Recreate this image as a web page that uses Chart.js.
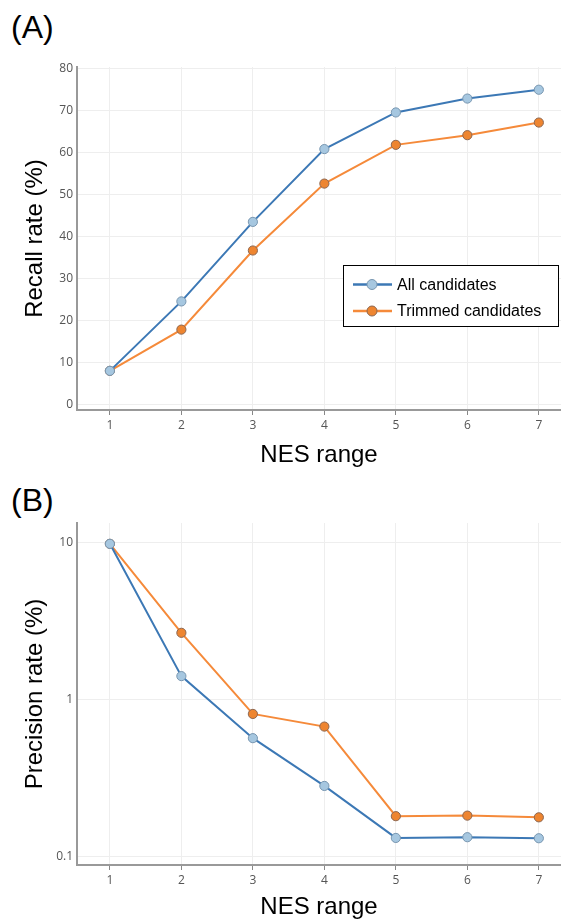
<!DOCTYPE html>
<html>
<head>
<meta charset="utf-8">
<script src="https://cdn.jsdelivr.net/npm/chart.js@4.4.1/dist/chart.umd.min.js"></script>
<style>
  html, body { margin: 0; padding: 0; background: #fff; }
  body { width: 561px; height: 922px; position: relative; overflow: hidden; font-family: "Liberation Sans", Arial, sans-serif; }
  .panel-label { position: absolute; left: 11px; font-size: 32px; color: #000; line-height: 1; }
  #wrapA { position: absolute; left: 0; top: 0; width: 561px; height: 470px; }
  #wrapB { position: absolute; left: 0; top: 470px; width: 561px; height: 452px; }
</style>
</head>
<body>
<div class="panel-label" style="top:11px">(A)</div>
<div class="panel-label" style="top:484px">(B)</div>
<div id="wrapA"><canvas id="chartA"></canvas></div>
<div id="wrapB"><canvas id="chartB"></canvas></div>

<script>
// ── data ──
const nesRange        = [1, 2, 3, 4, 5, 6, 7];
const recallAll       = [8.1, 24.6, 43.5, 60.8, 69.5, 72.8, 74.9];
const recallTrimmed   = [8.1, 17.9, 36.7, 52.6, 61.8, 64.1, 67.1];
const precisionAll    = [9.8, 1.41, 0.568, 0.282, 0.1316, 0.133, 0.131];
const precisionTrimmed = [9.8, 2.66, 0.81, 0.673, 0.181, 0.1825, 0.178];
const recallTicks     = [0, 10, 20, 30, 40, 50, 60, 70, 80];
const precisionTicks  = [0.1, 1, 10];
const seriesNames     = ['All candidates', 'Trimmed candidates'];

const BLUE = '#3c78b5', BLUE_FILL = '#a6c7e0', BLUE_EDGE = '#7896b0';
const ORANGE = '#f58a3a', ORANGE_FILL = '#ee8530', ORANGE_EDGE = '#8c6650';

const toPoints = ys => nesRange.map((x, i) => ({ x, y: ys[i] }));

function dataset(label, ys, line, fill, edge) {
  return {
    label, data: toPoints(ys),
    borderColor: line, borderWidth: 2,
    pointBackgroundColor: fill, pointBorderColor: edge,
    pointBorderWidth: 1, pointRadius: 4.6, pointHoverRadius: 4.6,
    tension: 0
  };
}

const tickFont  = { family: '"Open Sans", "DejaVu Sans", sans-serif', size: 12 };
const titleFont = { family: '"Liberation Sans", Arial, sans-serif', size: 24 };

function xScale(padTop, plotH) {
  return {
    type: 'linear', min: 0.54, max: 7.31,
    afterBuildTicks: s => { s.ticks = nesRange.map(v => ({ value: v })); },
    afterFit: s => { s.height = s.chart.height - padTop - plotH; },
    grid: { color: '#eeeeee', lineWidth: 1, tickColor: '#888', tickLength: 5, drawTicks: true },
    border: { color: '#999', width: 2 },
    ticks: { color: '#555', font: tickFont, padding: 3, callback: v => String(v) },
    title: { display: true, text: 'NES range', color: '#000', font: titleFont, padding: { top: 0, bottom: 0 } }
  };
}

function yScaleBase(title) {
  return {
    afterFit: s => { s.width = 77; },
    grid: { color: '#eeeeee', lineWidth: 1, drawTicks: false },
    border: { color: '#999', width: 2 },
    ticks: { color: '#555', font: tickFont, padding: 4, callback: v => String(v) },
    title: { display: true, text: title, color: '#000', font: titleFont, padding: { top: 21, bottom: 0 } }
  };
}

// legend box drawn inside the recall plot
const boxLegend = {
  id: 'boxLegend',
  afterDraw(chart) {
    const ctx = chart.ctx;
    const x0 = 343.5, y0 = 265.5, w = 215, h = 61;
    ctx.save();
    ctx.fillStyle = '#fff';
    ctx.fillRect(x0, y0, w, h);
    ctx.strokeStyle = '#000';
    ctx.lineWidth = 1;
    ctx.strokeRect(x0, y0, w, h);
    chart.data.datasets.forEach((ds, i) => {
      const cy = 284.5 + i * 26.5;
      ctx.strokeStyle = ds.borderColor;
      ctx.lineWidth = 2.5;
      ctx.beginPath(); ctx.moveTo(353, cy); ctx.lineTo(392, cy); ctx.stroke();
      ctx.beginPath(); ctx.arc(372, cy, 5, 0, Math.PI * 2);
      ctx.fillStyle = ds.pointBackgroundColor; ctx.fill();
      ctx.strokeStyle = ds.pointBorderColor; ctx.lineWidth = 1; ctx.stroke();
      ctx.fillStyle = '#000';
      ctx.font = '16px "Liberation Sans", Arial, sans-serif';
      ctx.textBaseline = 'middle';
      ctx.fillText(ds.label, 397, cy + 1);
    });
    ctx.restore();
  }
};

function makeChart(id, datasets, yScale, padTop, plotH, plugins) {
  return new Chart(document.getElementById(id), {
    type: 'line',
    data: { datasets },
    options: {
      responsive: true, maintainAspectRatio: false, animation: false,
      layout: { autoPadding: false, padding: { top: padTop, right: 0, bottom: 0, left: 0 } },
      plugins: { legend: { display: false }, tooltip: { enabled: false } },
      scales: { x: xScale(padTop, plotH), y: yScale }
    },
    plugins
  });
}

const yA = Object.assign(yScaleBase('Recall rate (%)'), {
  type: 'linear', min: -1.2, max: 80.3,
  afterBuildTicks: s => { s.ticks = recallTicks.map(v => ({ value: v })); }
});

const yB = Object.assign(yScaleBase('Precision rate (%)'), {
  type: 'logarithmic', min: 0.0885, max: 13.3,
  afterBuildTicks: s => { s.ticks = precisionTicks.map(v => ({ value: v })); }
});

makeChart('chartA', [
  dataset(seriesNames[0], recallAll, BLUE, BLUE_FILL, BLUE_EDGE),
  dataset(seriesNames[1], recallTrimmed, ORANGE, ORANGE_FILL, ORANGE_EDGE)
], yA, 67, 343, [boxLegend]);

makeChart('chartB', [
  dataset(seriesNames[0], precisionAll, BLUE, BLUE_FILL, BLUE_EDGE),
  dataset(seriesNames[1], precisionTrimmed, ORANGE, ORANGE_FILL, ORANGE_EDGE)
], yB, 53, 342, []);
</script>
</body>
</html>
